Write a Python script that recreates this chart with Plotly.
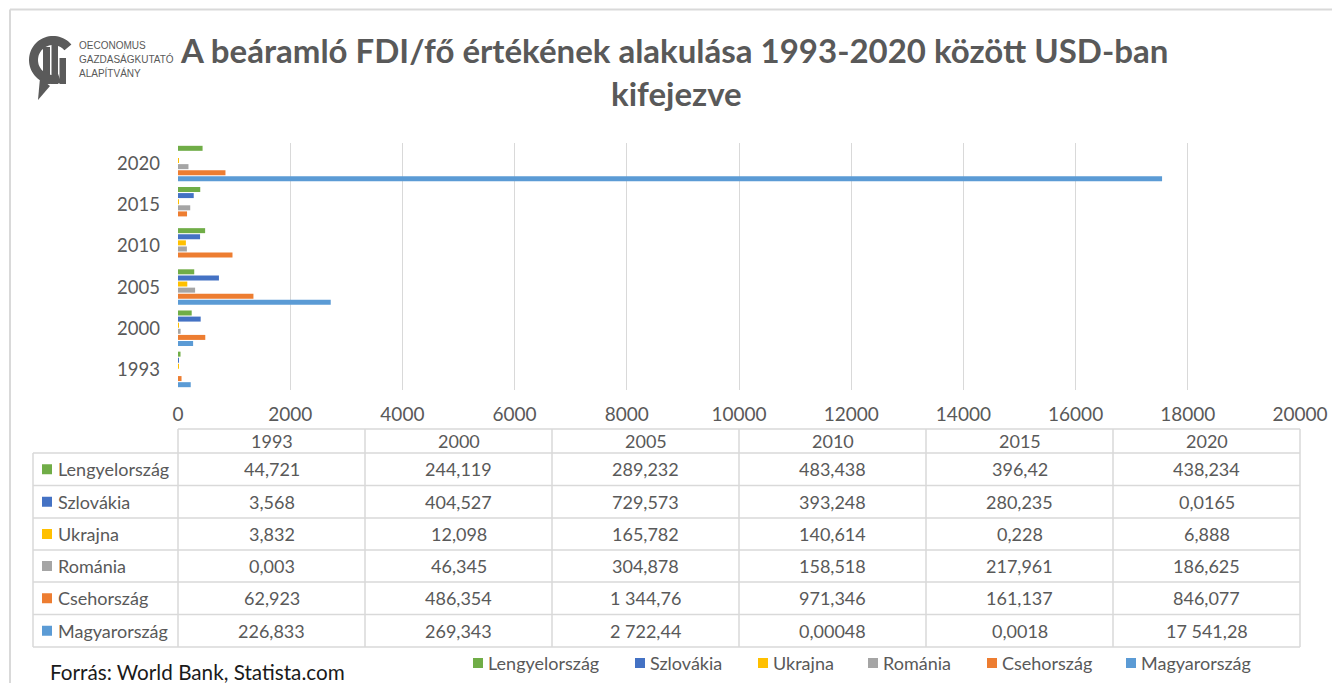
import math
import plotly.graph_objects as go

W, H = 1332, 683

# ---------------- data ----------------
years = ["1993", "2000", "2005", "2010", "2015", "2020"]
countries = ["Lengyelország", "Szlovákia", "Ukrajna", "Románia", "Csehország", "Magyarország"]
colors = ["#70AD47", "#4472C4", "#FFC000", "#A5A5A5", "#ED7D31", "#5B9BD5"]

lengyelorszag = [44.721, 244.119, 289.232, 483.438, 396.42, 438.234]
szlovakia = [3.568, 404.527, 729.573, 393.248, 280.235, 0.0165]
ukrajna = [3.832, 12.098, 165.782, 140.614, 0.228, 6.888]
romania = [0.003, 46.345, 304.878, 158.518, 217.961, 186.625]
csehorszag = [62.923, 486.354, 1344.76, 971.346, 161.137, 846.077]
magyarorszag = [226.833, 269.343, 2722.44, 0.00048, 0.0018, 17541.28]

series = [lengyelorszag, szlovakia, ukrajna, romania, csehorszag, magyarorszag]
x_ticks = [0, 2000, 4000, 6000, 8000, 10000, 12000, 14000, 16000, 18000, 20000]

title_line1 = "A beáramló FDI/fő értékének alakulása 1993-2020 között USD-ban"
title_line2 = "kifejezve"
source_text = "Forrás: World Bank, Statista.com"
logo_lines = ["OECONOMUS", "GAZDASÁGKUTATÓ", "ALAPÍTVÁNY"]

FONT = "Lato, Carlito, Calibri, sans-serif"
TXT = "#595959"
GRID = "#D9D9D9"


def X(px):
    return px / W


def Y(py):
    return 1 - py / H


def hu(v):
    s = repr(float(v))
    if "e" in s:
        s = ("%.10f" % v).rstrip("0")
    ip, _, fp = s.partition(".")
    if fp == "0":
        fp = ""
    groups = []
    while len(ip) > 3:
        groups.insert(0, ip[-3:])
        ip = ip[:-3]
    groups.insert(0, ip)
    out = "\u00a0".join(groups)
    return out + ("," + fp if fp else "")


# plot area in pixels
PL, PR, PT, PB = 178, 1300, 143, 390

fig = go.Figure()
# bottom-to-top order inside each group: Magyarország ... Lengyelország
for name, col, vals in reversed(list(zip(countries, colors, series))):
    fig.add_trace(go.Bar(
        y=years, x=vals, name=name, orientation="h",
        marker=dict(color=col, line=dict(width=0)),
        showlegend=False, hoverinfo="x+y+name",
    ))

fig.update_layout(
    width=W, height=H,
    margin=dict(l=0, r=0, t=0, b=0, autoexpand=False),
    paper_bgcolor="white", plot_bgcolor="white",
    barmode="group", bargap=0.11, bargroupgap=0.18,
    font=dict(family=FONT, color=TXT, size=17),
    xaxis=dict(
        domain=[X(PL), X(PR)], range=[0, 20000],
        tickvals=x_ticks, ticktext=[str(t) for t in x_ticks],
        showgrid=True, gridcolor=GRID, gridwidth=1,
        zeroline=False, showline=False, automargin=False,
        ticks="", ticklabelstandoff=11,
        tickfont=dict(size=19, color=TXT, family=FONT),
    ),
    yaxis=dict(
        domain=[Y(PB), Y(PT)], type="category",
        categoryorder="array", categoryarray=years,
        showgrid=False, zeroline=False, showline=False, automargin=False,
        ticks="", ticklabelstandoff=17,
        tickfont=dict(size=18.5, color=TXT, family=FONT),
    ),
)

shapes = []
annotations = []

# outer frame (top & left light border)
shapes.append(dict(type="line", xref="paper", yref="paper", x0=X(10), x1=X(1332), y0=Y(9.5), y1=Y(9.5),
                   line=dict(color="#D9D9D9", width=2)))
shapes.append(dict(type="line", xref="paper", yref="paper", x0=X(10), x1=X(10), y0=Y(9.5), y1=Y(683),
                   line=dict(color="#D9D9D9", width=2)))

# title
annotations.append(dict(text="<b>" + title_line1 + "</b>", x=X(674), y=Y(50), xref="paper", yref="paper",
                        showarrow=False, xanchor="center", yanchor="middle",
                        font=dict(size=33, color=TXT, family=FONT)))
annotations.append(dict(text="<b>" + title_line2 + "</b>", x=X(676), y=Y(93), xref="paper", yref="paper",
                        showarrow=False, xanchor="center", yanchor="middle",
                        font=dict(size=33, color=TXT, family=FONT)))

# logo
LOGO = "#5a5a5a"
cx, cy, Ro, Ri = 53, 60, 24, 15
a0, a1 = 40, 290  # degrees, counter-clockwise from top-right to bottom-right
pts_o = [(cx + Ro * math.cos(math.radians(a)), cy - Ro * math.sin(math.radians(a))) for a in range(a0, a1 + 1, 5)]
pts_i = [(cx + Ri * math.cos(math.radians(a)), cy - Ri * math.sin(math.radians(a))) for a in range(a1, a0 - 1, -5)]
path = "M " + " L ".join(f"{X(px):.5f},{Y(py):.5f}" for px, py in pts_o + pts_i) + " Z"
shapes.append(dict(type="path", xref="paper", yref="paper", path=path, fillcolor=LOGO, line=dict(width=0)))
tail = [(40, 78), (50, 86), (38, 100)]
shapes.append(dict(type="path", xref="paper", yref="paper",
                   path="M " + " L ".join(f"{X(a):.5f},{Y(b):.5f}" for a, b in tail) + " Z",
                   fillcolor=LOGO, line=dict(width=0)))
for bx0, bx1, btop in [(43, 50, 47), (51.5, 58, 42), (59.5, 66, 58)]:
    shapes.append(dict(type="rect", xref="paper", yref="paper", x0=X(bx0), x1=X(bx1), y0=Y(84), y1=Y(btop),
                       fillcolor=LOGO, line=dict(width=0)))
for i, t in enumerate(logo_lines):
    annotations.append(dict(text=t, x=X(77), y=Y(45 + 14 * i), xref="paper", yref="paper",
                            showarrow=False, xanchor="left", yanchor="middle",
                            font=dict(size=10, color=TXT, family="Liberation Sans, Arial, sans-serif")))

# data table
col_x = [178 + i * 187 for i in range(7)]
col_x[-1] = 1300
row_y = [429, 453, 485.5, 518, 550, 582, 614.5, 647]
LINE = dict(color=GRID, width=1.5)
# horizontal lines
shapes.append(dict(type="line", xref="paper", yref="paper", x0=X(178), x1=X(1300), y0=Y(row_y[0]), y1=Y(row_y[0]), line=LINE))
for yy in row_y[1:]:
    shapes.append(dict(type="line", xref="paper", yref="paper", x0=X(33), x1=X(1300), y0=Y(yy), y1=Y(yy), line=LINE))
# vertical lines
shapes.append(dict(type="line", xref="paper", yref="paper", x0=X(33), x1=X(33), y0=Y(row_y[1]), y1=Y(row_y[-1]), line=LINE))
for xx in col_x:
    shapes.append(dict(type="line", xref="paper", yref="paper", x0=X(xx), x1=X(xx), y0=Y(row_y[0]), y1=Y(row_y[-1]), line=LINE))
# header
for j, yr in enumerate(years):
    annotations.append(dict(text=yr, x=X((col_x[j] + col_x[j + 1]) / 2), y=Y((row_y[0] + row_y[1]) / 2),
                            xref="paper", yref="paper", showarrow=False, xanchor="center", yanchor="middle",
                            font=dict(size=18, color=TXT, family=FONT)))
# rows
for i, (name, col, vals) in enumerate(zip(countries, colors, series)):
    ymid = (row_y[i + 1] + row_y[i + 2]) / 2
    shapes.append(dict(type="rect", xref="paper", yref="paper", x0=X(42), x1=X(52), y0=Y(ymid + 5), y1=Y(ymid - 5),
                       fillcolor=col, line=dict(width=0)))
    annotations.append(dict(text=name, x=X(56), y=Y(ymid), xref="paper", yref="paper", showarrow=False,
                            xanchor="left", yanchor="middle", font=dict(size=18, color=TXT, family=FONT)))
    for j, v in enumerate(vals):
        annotations.append(dict(text=hu(v), x=X((col_x[j] + col_x[j + 1]) / 2), y=Y(ymid),
                                xref="paper", yref="paper", showarrow=False, xanchor="center", yanchor="middle",
                                font=dict(size=18, color=TXT, family=FONT)))

# legend (bottom)
leg_sq = [473, 635, 758, 868, 987, 1126]
for name, col, sx in zip(countries, colors, leg_sq):
    shapes.append(dict(type="rect", xref="paper", yref="paper", x0=X(sx), x1=X(sx + 10), y0=Y(668), y1=Y(658),
                       fillcolor=col, line=dict(width=0)))
    annotations.append(dict(text=name, x=X(sx + 13), y=Y(663), xref="paper", yref="paper", showarrow=False,
                            xanchor="left", yanchor="middle", font=dict(size=18, color=TXT, family=FONT)))

# source
annotations.append(dict(text=source_text, x=X(48), y=Y(672), xref="paper", yref="paper", showarrow=False,
                        xanchor="left", yanchor="middle", font=dict(size=20.7, color="#1a1a1a", family=FONT)))

fig.update_layout(shapes=shapes, annotations=annotations)
fig.write_html(
    "out.html",
    config={"displayModeBar": False},
    post_script="document.body.style.margin='0';document.body.style.padding='0';"
                "document.documentElement.style.overflow='hidden';document.body.style.overflow='hidden';",
)
